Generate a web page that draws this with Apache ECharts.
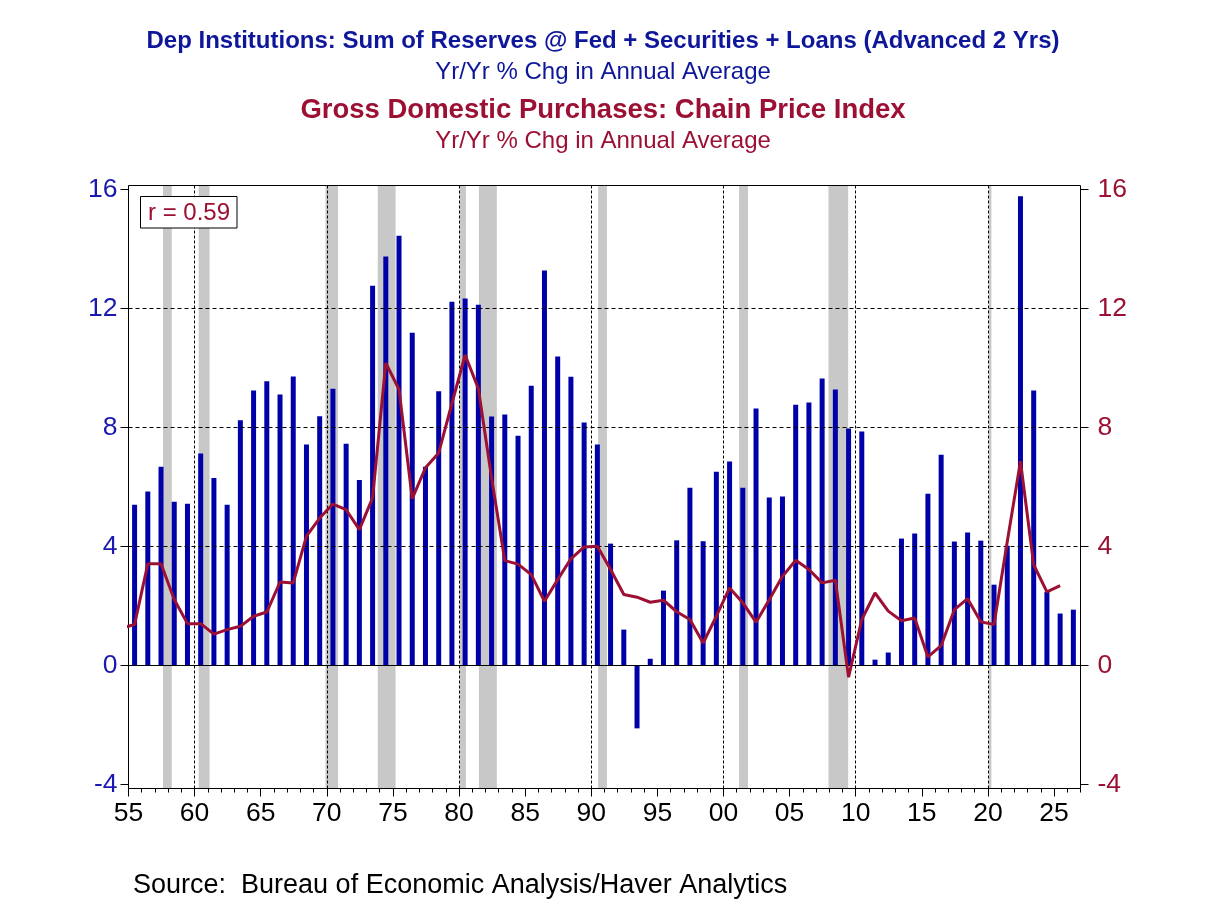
<!DOCTYPE html>
<html>
<head>
<meta charset="utf-8">
<title>Dep Institutions vs Gross Domestic Purchases</title>
<script src="https://cdn.jsdelivr.net/npm/echarts@6/dist/echarts.min.js"></script>
<style>
  html, body { margin: 0; padding: 0; background: #fff; }
  #chart { width: 1208px; height: 906px; }
</style>
</head>
<body>
<div id="chart"></div>
<script>
// bank credit (reserves + securities + loans, advanced 2 yrs), yr/yr % chg, 1955..2026
const barYears = [];
for (let y = 1955; y <= 2026; y++) barYears.push(y);
const creditChg = [
  5.40, 5.84, 6.67, 5.50, 5.43, 7.12, 6.30, 5.40, 8.24, 9.24,
  9.55, 9.10, 9.71, 7.42, 8.37, 9.30, 7.45, 6.23, 12.76, 13.74,
  14.44, 11.18, 6.67, 9.21, 12.22, 12.33, 12.12, 8.36, 8.43, 7.72,
  9.40, 13.27, 10.38, 9.70, 8.16, 7.42, 4.09, 1.20, -2.12, 0.22,
  2.51, 4.20, 5.97, 4.17, 6.51, 6.85, 5.97, 8.63, 5.64, 5.67,
  8.76, 8.83, 9.64, 9.27, 7.96, 7.86, 0.19, 0.43, 4.26, 4.43,
  5.77, 7.08, 4.16, 4.46, 4.19, 2.71, 4.02, 15.77, 9.24, 2.47,
  1.74, 1.87
];

// gross domestic purchases chain price index, yr/yr % chg, 1954..2025
const lineYears = [];
for (let y = 1954; y <= 2025; y++) lineYears.push(y);
const priceChg = [
  1.25, 1.37, 3.41, 3.41, 2.21, 1.40, 1.40, 1.05, 1.20, 1.31,
  1.65, 1.79, 2.80, 2.77, 4.34, 4.95, 5.42, 5.23, 4.56, 5.63,
  10.16, 9.27, 5.60, 6.64, 7.14, 8.80, 10.43, 9.30, 6.30, 3.52,
  3.40, 3.05, 2.15, 2.88, 3.58, 3.98, 4.00, 3.22, 2.38, 2.29,
  2.12, 2.19, 1.80, 1.54, 0.75, 1.65, 2.60, 2.10, 1.45, 2.20,
  2.99, 3.53, 3.22, 2.77, 2.86, -0.40, 1.54, 2.43, 1.82, 1.50,
  1.59, 0.28, 0.66, 1.87, 2.24, 1.46, 1.37, 4.15, 6.86, 3.38,
  2.47, 2.68
];

// NBER recessions (fractional years)
const recessions = [
  [1957.61, 1958.27], [1960.31, 1961.13], [1969.9, 1970.85], [1973.85, 1975.2],
  [1980.05, 1980.52], [1981.5, 1982.86], [1990.52, 1991.18], [2001.18, 2001.85],
  [2007.94, 2009.43], [2020.08, 2020.26]
];

const yTicks = [-4, 0, 4, 8, 12, 16];
const gridYears = [1960, 1970, 1980, 1990, 2000, 2010, 2020];
const majorYears = [];
for (let y = 1955; y <= 2025; y += 5) majorYears.push(y);

const FONT = '"Liberation Sans", Arial, sans-serif';
const BLUE = '#0000a8';
const TITLE_BLUE = '#0e1799';
const RED = '#9c1034';
const MID = 0.46; // annual values sit near mid-year

const chart = echarts.init(document.getElementById('chart'), null, { renderer: 'canvas' });

const noMark = { symbol: ['none', 'none'], silent: true, label: { show: false }, emphasis: { disabled: true }, animation: false };

function txt(text, x, y, size, color, bold, align) {
  return {
    type: 'text', x: x, y: y, z: 100,
    style: {
      text: text,
      font: (bold ? 'bold ' : '') + size + 'px ' + FONT,
      fill: color,
      align: align || 'center', verticalAlign: 'middle',
      textAlign: align || 'center', textVerticalAlign: 'middle'
    }
  };
}

const option = {
  animation: false,
  backgroundColor: '#fff',
  textStyle: { fontFamily: FONT },
  grid: [
    { left: 128.5, right: 127.5, top: 185.5, bottom: 117.5, show: true, borderColor: '#000', borderWidth: 1, backgroundColor: 'transparent', z: 5 },
    { left: 128.5, right: 127.5, top: 189.3, bottom: 121.7 }
  ],
  xAxis: [
    {
      gridIndex: 0, type: 'value', position: 'bottom', offset: 0, min: 1955, max: 2027, interval: 5,
      axisLine: { show: false },
      axisTick: { show: true, length: 8, customValues: majorYears, lineStyle: { color: '#000' } },
      axisLabel: {
        color: '#000', fontSize: 26.5, margin: 12, customValues: majorYears,
        formatter: v => (v % 5 === 0 && v <= 2025) ? String(v % 100).padStart(2, '0') : ''
      },
      splitLine: { show: false }
    },
    {
      gridIndex: 0, type: 'value', position: 'bottom', offset: 0, min: 1955, max: 2027, interval: 1,
      axisLine: { show: false },
      axisTick: { show: true, length: 4, lineStyle: { color: '#000' } },
      axisLabel: { show: false },
      splitLine: { show: false }
    },
    { gridIndex: 1, type: 'value', min: 1955, max: 2027, show: false }
  ],
  yAxis: [
    { gridIndex: 0, type: 'value', min: 0, max: 1, show: false },
    {
      gridIndex: 1, type: 'value', position: 'left', min: -4, max: 16, interval: 4,
      axisLine: { show: false },
      axisTick: { show: true, length: 8, lineStyle: { color: '#000' } },
      axisLabel: { color: '#1a1aae', fontSize: 26.5, margin: 11 },
      splitLine: { show: false }
    },
    {
      gridIndex: 1, type: 'value', position: 'right', min: -4, max: 16, interval: 4,
      axisLine: { show: false },
      axisTick: { show: true, length: 8, lineStyle: { color: '#000' } },
      axisLabel: { color: RED, fontSize: 26.5, margin: 17 },
      splitLine: { show: false }
    }
  ],
  series: [
    {
      // vertical dotted decade lines
      type: 'line', xAxisIndex: 0, yAxisIndex: 0, data: [], z: 1,
      markLine: Object.assign({}, noMark, {
        lineStyle: { color: '#000', width: 1, type: [3, 2] },
        data: gridYears.map(y => ({ xAxis: y }))
      })
    },
    {
      // dashed horizontal grid
      type: 'line', xAxisIndex: 2, yAxisIndex: 1, data: [], z: 1,
      markLine: Object.assign({}, noMark, {
        lineStyle: { color: '#000', width: 1, type: [4, 3] },
        data: yTicks.filter(v => v > 0 && v < 16).map(v => ({ yAxis: v }))
      })
    },
    {
      // recession shading
      type: 'line', xAxisIndex: 0, yAxisIndex: 0, data: [], z: 2,
      markArea: {
        silent: true,
        itemStyle: { color: '#c8c8c8' },
        data: recessions.map(r => [{ xAxis: r[0] }, { xAxis: r[1] }])
      }
    },
    {
      // zero line
      type: 'line', xAxisIndex: 2, yAxisIndex: 1, data: [], z: 3,
      markLine: Object.assign({}, noMark, {
        lineStyle: { color: '#000', width: 1, type: 'solid' },
        data: [{ yAxis: 0 }]
      })
    },
    {
      name: 'Dep Institutions credit',
      type: 'bar', xAxisIndex: 2, yAxisIndex: 1, z: 4,
      barWidth: 5,
      itemStyle: { color: BLUE },
      data: barYears.map((y, i) => [y + MID, creditChg[i]])
    },
    {
      name: 'Gross Domestic Purchases price',
      type: 'line', xAxisIndex: 2, yAxisIndex: 2, z: 6,
      showSymbol: false, clip: true,
      lineStyle: { color: RED, width: 3 },
      itemStyle: { color: RED },
      data: lineYears.map((y, i) => [y + MID, priceChg[i]])
    }
  ],
  graphic: [
    txt('Dep Institutions: Sum of Reserves @ Fed + Securities + Loans (Advanced 2 Yrs)', 603, 41, 24, TITLE_BLUE, true),
    txt('Yr/Yr % Chg in Annual Average', 603, 72, 24, TITLE_BLUE, false),
    txt('Gross Domestic Purchases: Chain Price Index', 603, 110, 27.5, RED, true),
    txt('Yr/Yr % Chg in Annual Average', 603, 141, 24, RED, false),
    txt('Source:  Bureau of Economic Analysis/Haver Analytics', 133, 886, 27, '#000', false, 'left'),
    {
      type: 'rect', z: 99,
      shape: { x: 140.5, y: 196.5, width: 96.5, height: 31.5 },
      style: { fill: '#fff', stroke: '#000', lineWidth: 1 }
    },
    txt('r = 0.59', 189, 213, 24, RED, false)
  ]
};

chart.setOption(option);
</script>
</body>
</html>
